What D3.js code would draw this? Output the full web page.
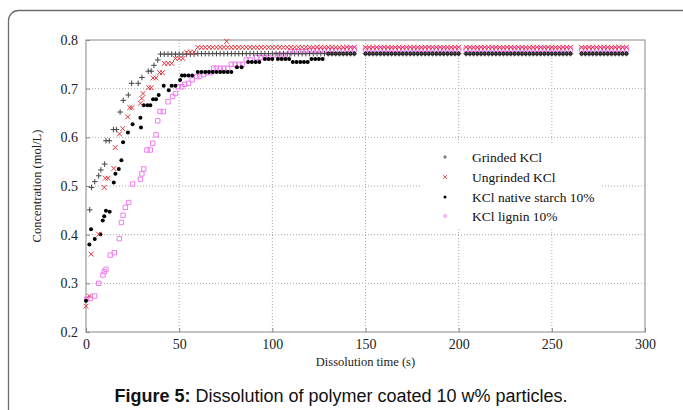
<!DOCTYPE html>
<html>
<head>
<meta charset="utf-8">
<script src="https://cdn.jsdelivr.net/npm/d3@7"></script>
<style>
  body { margin: 0; background: #fff; }
  svg { display: block; }
</style>
</head>
<body>
<div id="chart"></div>
<script>
const N = null;

// x / y ticks
const xTicks = [0, 50, 100, 150, 200, 250, 300];
const yTicks = [0.2, 0.3, 0.4, 0.5, 0.6, 0.7, 0.8];

const seriesNames = ["Grinded KCl", "Ungrinded KCl", "KCl native starch 10%", "KCl lignin 10%"];

// rising part of each curve, [time s, concentration mol/L]
const grindedRise = [[2,0.451],[3,0.497],[4.7,0.509],[6.8,0.521],[8,0.533],[10,0.545],[10.7,0.593],[12.5,0.593],
  [14.7,0.616],[16.3,0.616],[18.3,0.652],[20,0.676],[22.7,0.687],[24.5,0.711],[28,0.711],[30,0.723],
  [33.4,0.736],[35,0.736],[36.5,0.748],[38.5,0.759]];
const ungrindedRise = [[0,0.253],[1.8,0.274],[2.8,0.360],[6.8,0.401],[9.8,0.497],[10.4,0.516],[11.8,0.516],
  [14.9,0.536],[15.7,0.579],[18,0.607],[19.7,0.618],[22.4,0.642],[23.5,0.661],[24.7,0.661],[29.2,0.670],
  [30,0.680],[30.6,0.690],[33.6,0.702],[35,0.702],[36,0.722],[37.5,0.722],[39.5,0.733],[41,0.733],
  [42,0.752],[44,0.752],[46,0.752],[48,0.762],[50,0.762],[52,0.762],[54,0.775],[56,0.775],[58,0.775],[75.5,0.797]];
const starchRise = [[0,0.264],[1.8,0.380],[2.7,0.411],[4.7,0.391],[7.7,0.401],[9,0.429],[9.8,0.438],[10.7,0.449],
  [12.7,0.447],[14.9,0.507],[15.8,0.525],[17.6,0.535],[19,0.553],[19.9,0.590],[22.5,0.610],[25,0.627],
  [29.2,0.640],[29.5,0.620],[31,0.666],[33,0.666],[34.5,0.666],[36,0.678],[37.6,0.678],[39,0.687],
  [41.7,0.706],[44.4,0.697],[46,0.706],[48,0.706],[50.5,0.718],[51.5,0.727],[53,0.727],[55,0.727],[57,0.727],
  [60,0.734],[62,0.734],[64,0.734],[66,0.734],[68,0.734],[70,0.734],[72,0.734],[74,0.734],[76,0.734],[78,0.734],
  [81,0.744],[83.5,0.744],[87,0.755],[89,0.755],[91,0.755],[93,0.755],[96,0.761],[98,0.761],[100,0.761],
  [103,0.761],[105,0.761],[107,0.761],[109,0.761],[111,0.755],[113,0.755],[115,0.755],[117,0.755],[119,0.755],
  [121,0.761],[123,0.761],[125,0.761],[127,0.761]];
const ligninRise = [[0.5,0.268],[2.3,0.269],[4.7,0.274],[6.8,0.300],[9.1,0.317],[9.8,0.324],[10.7,0.329],[13,0.358],
  [15.2,0.363],[17.9,0.392],[19,0.425],[19.9,0.440],[21.1,0.456],[22.9,0.466],[25,0.504],[29.2,0.514],
  [30,0.525],[31,0.535],[32.7,0.574],[34.5,0.574],[35.8,0.588],[37.6,0.605],[38.5,0.634],[39.7,0.653],
  [41.5,0.653],[44,0.673],[46.5,0.684],[48,0.690],[49.5,0.704],[51.4,0.704],[53,0.709],[55,0.711],[57,0.718],
  [59.4,0.725],[61,0.725],[63,0.729],[65,0.733],[67,0.733],[68.5,0.742],[70,0.742],[72,0.742],[74,0.742],
  [76,0.742],[78,0.750],[80,0.750],[82,0.750],[84,0.750],[86,0.759],[88,0.759],[91.6,0.764],[94,0.764],
  [96,0.764],[98,0.764],[102,0.769],[104,0.769],[106,0.769],[108,0.769],[110,0.776],[112,0.776],[114,0.776],
  [116,0.776],[118,0.776]];

// plateau readings every 2 s (null = no marker)
const plateauTimes = [40,42,44,46,48,50,52,54,56,58,
  60,62,64,66,68,70,72,74,76,78,
  80,82,84,86,88,90,92,94,96,98,
  100,102,104,106,108,110,112,114,116,118,
  120,122,124,126,128,130,132,134,136,138,
  140,142,144,146,148,150,152,154,156,158,
  160,162,164,166,168,170,172,174,176,178,
  180,182,184,186,188,190,192,194,196,198,
  200,202,204,206,208,210,212,214,216,218,
  220,222,224,226,228,230,232,234,236,238,
  240,242,244,246,248,250,252,254,256,258,
  260,262,264,266,268,270,272,274,276,278,
  280,282,284,286,288,290];
const grindedPlateau = [.771,.771,.771,.771,.771,.771,.771,.771,.771,.771,
  .772,.772,.772,.772,.772,.772,.772,.772,.772,.772,
  .772,.772,.772,.772,.772,.772,.772,.772,.772,.772,
  .772,.772,.772,.772,.772,.772,.772,.772,.772,.772,
  .772,.772,.772,.772,.772,.772,.772,.772,.772,.772,
  .772,.772,.772,N,N,.772,.772,.772,.772,.772,
  .772,.772,.772,.772,.772,.772,.772,.772,.772,.772,
  .772,.772,.772,.772,.772,.772,.772,.772,.772,.772,
  .772,N,.772,.772,.772,.772,.772,.772,.772,.772,
  .772,.772,.772,.772,.772,.772,.772,.772,.772,.772,
  .772,.772,.772,.772,.772,.772,.772,.772,.772,.772,
  .772,N,N,.772,.772,.772,.772,.772,.772,.772,
  .772,.772,.772,.772,.772,.772];
const ungrindedPlateau = [N,N,N,N,N,N,N,N,N,N,
  .785,.785,.785,.785,.785,.785,.785,.785,.785,.785,
  .785,.785,.785,.785,.785,.785,.785,.785,.785,.785,
  .785,.785,.785,.785,.785,.785,.785,.785,.785,.785,
  .785,.785,.785,.785,.785,.785,.785,.785,.785,.785,
  .785,.785,.785,N,N,.785,.785,.785,.785,.785,
  .785,.785,.785,.785,.785,.785,.785,.785,.785,.785,
  .785,.785,.785,.785,.785,.785,.785,.785,.785,.785,
  .785,N,.785,.785,.785,.785,.785,.785,.785,.785,
  .785,.785,.785,.785,.785,.785,.785,.785,.785,.785,
  .785,.785,.785,.785,.785,.785,.785,.785,.785,.785,
  .785,N,N,.785,.785,.785,.785,.785,.785,.785,
  .785,.785,.785,.785,.785,.785];
const starchPlateau = [N,N,N,N,N,N,N,N,N,N,
  N,N,N,N,N,N,N,N,N,N,
  N,N,N,N,N,N,N,N,N,N,
  N,N,N,N,N,N,N,N,N,N,
  N,N,N,N,N,.772,.772,.772,.772,.772,
  .772,.772,.772,N,N,.772,.772,.772,.772,.772,
  .772,.772,.772,.772,.772,.772,.772,.772,.772,.772,
  .772,.772,.772,.772,.772,.772,.772,.772,.772,.772,
  .772,N,.772,.772,.772,.772,.772,.772,.772,.772,
  .772,.772,.772,.772,.772,.772,.772,.772,.772,.772,
  .772,.772,.772,.772,.772,.772,.772,.772,.772,.772,
  .772,N,N,.772,.772,.772,.772,.772,.772,.772,
  .772,.772,.772,.772,.772,.772];
const ligninPlateau = [N,N,N,N,N,N,N,N,N,N,
  N,N,N,N,N,N,N,N,N,N,
  N,N,N,N,N,N,N,N,N,N,
  N,N,N,N,N,N,N,N,N,N,
  .779,.779,.779,.779,.779,.779,.779,.779,.779,.779,
  .781,.781,.781,N,N,.781,.781,.781,.781,.781,
  .781,.781,.781,.781,.781,.781,.781,.781,.781,.781,
  .781,.781,.781,.781,.781,.781,.781,.781,.781,.781,
  .781,N,.781,.781,.781,.781,.781,.781,.781,.781,
  .781,.781,.781,.781,.781,.781,.781,.781,.781,.781,
  .781,.781,.781,.781,.781,.781,.781,.781,.781,.781,
  .781,N,N,.781,.781,.781,.781,.781,.781,.781,
  .781,.781,.781,.781,.781,.781];

const W = 683, H = 410;
const PLOT = { LEFT: 86, RIGHT: 645, TOP: 40, BOTTOM: 332 };

const svg = d3.select("#chart").append("svg")
  .attr("width", W)
  .attr("height", H);

// page frame (rounded, cut at the bottom/right like the journal page)
svg.append("rect")
  .attr("x", 8.5).attr("y", 10.5)
  .attr("width", 700).attr("height", 440)
  .attr("rx", 10)
  .attr("fill", "none")
  .attr("stroke", "#6b6b6b")
  .attr("stroke-width", 1.3);

const x = d3.scaleLinear().domain([0, 300]).range([PLOT.LEFT, PLOT.RIGHT]);
const y = d3.scaleLinear().domain([0.2, 0.8]).range([PLOT.BOTTOM, PLOT.TOP]);

const serif = "'Liberation Serif', 'Times New Roman', serif";

// dotted grid
const grid = svg.append("g");
grid.selectAll(".gx").data(xTicks.slice(1, -1)).enter().append("line")
  .attr("x1", d => x(d)).attr("x2", d => x(d))
  .attr("y1", PLOT.TOP).attr("y2", PLOT.BOTTOM)
  .attr("stroke", "#aaa").attr("stroke-dasharray", "1,2");
grid.selectAll(".gy").data(yTicks.slice(1, -1)).enter().append("line")
  .attr("x1", PLOT.LEFT).attr("x2", PLOT.RIGHT)
  .attr("y1", d => y(d)).attr("y2", d => y(d))
  .attr("stroke", "#aaa").attr("stroke-dasharray", "1,2");

// axes with inward ticks
const xAxis = svg.append("g")
  .attr("transform", `translate(0, ${PLOT.BOTTOM})`)
  .call(d3.axisBottom(x).tickValues(xTicks).tickSize(-4).tickPadding(7).tickSizeOuter(0));
const yAxis = svg.append("g")
  .attr("transform", `translate(${PLOT.LEFT}, 0)`)
  .call(d3.axisLeft(y).tickValues(yTicks).tickFormat(d3.format(".1f")).tickSize(-4).tickPadding(8).tickSizeOuter(0));
[xAxis, yAxis].forEach(a => {
  a.select(".domain").remove();
  a.selectAll("line").attr("stroke", "#888");
  a.selectAll("text").attr("font-family", serif).attr("font-size", 14).attr("fill", "#222");
});

// plot border
svg.append("rect")
  .attr("x", PLOT.LEFT).attr("y", PLOT.TOP)
  .attr("width", PLOT.RIGHT - PLOT.LEFT).attr("height", PLOT.BOTTOM - PLOT.TOP)
  .attr("fill", "none").attr("stroke", "#888").attr("stroke-width", 1);

// axis titles
svg.append("text")
  .attr("x", x(150)).attr("y", 366)
  .attr("text-anchor", "middle")
  .attr("font-family", serif).attr("font-size", 12.5).attr("fill", "#222")
  .text("Dissolution time (s)");
svg.append("text")
  .attr("transform", `translate(41, ${y(0.5)}) rotate(-90)`)
  .attr("text-anchor", "middle")
  .attr("font-family", serif).attr("font-size", 12.5).attr("fill", "#222")
  .text("Concentration (mol/L)");

// marker shapes
const shapes = {
  plus: s => `M${-s},0H${s}M0,${-s}V${s}`,
  cross: s => `M${-s},${-s}L${s},${s}M${-s},${s}L${s},${-s}`,
  square: s => `M${-s},${-s}H${s}V${s}H${-s}Z`
};

function toPoints(rise, plateau) {
  const pts = rise.map(d => ({ t: d[0], c: d[1] }));
  plateauTimes.forEach((t, i) => {
    if (plateau[i] !== null) pts.push({ t: t, c: plateau[i] });
  });
  return pts;
}

const series = [
  { name: seriesNames[0], pts: toPoints(grindedRise, grindedPlateau), kind: "plus", color: "#444", size: 2.8 },
  { name: seriesNames[1], pts: toPoints(ungrindedRise, ungrindedPlateau), kind: "cross", color: "#e8333a", size: 2.4 },
  { name: seriesNames[2], pts: toPoints(starchRise, starchPlateau), kind: "dot", color: "#000", size: 2 },
  { name: seriesNames[3], pts: toPoints(ligninRise, ligninPlateau), kind: "square", color: "#f07cf0", size: 2.2 }
];

// draw order: lignin under, then starch, grinded, ungrinded
const drawOrder = [3, 2, 0, 1];
drawOrder.forEach(k => {
  const s = series[k];
  const g = svg.append("g");
  if (s.kind === "dot") {
    g.selectAll("circle").data(s.pts).enter().append("circle")
      .attr("cx", d => x(d.t)).attr("cy", d => y(d.c))
      .attr("r", s.size).attr("fill", s.color);
  } else {
    g.selectAll("path").data(s.pts).enter().append("path")
      .attr("transform", d => `translate(${x(d.t)}, ${y(d.c)})`)
      .attr("d", shapes[s.kind](s.size))
      .attr("fill", "none").attr("stroke", s.color).attr("stroke-width", 1);
  }
});

// legend
const legend = svg.append("g");
legend.append("rect")
  .attr("x", 422).attr("y", 143).attr("width", 180).attr("height", 85)
  .attr("fill", "#fff");
const legendRows = [157, 177, 197, 216];
series.forEach((s, i) => {
  const row = legend.append("g").attr("transform", `translate(445, ${legendRows[i]})`);
  if (s.kind === "dot") {
    row.append("circle").attr("r", 1.5).attr("fill", s.color);
  } else if (s.kind === "square") {
    row.append("rect").attr("x", -1.8).attr("y", -1.8).attr("width", 3.6).attr("height", 3.6)
      .attr("fill", "#f6b6f6");
  } else {
    row.append("path").attr("d", shapes[s.kind](2))
      .attr("fill", "none").attr("stroke", s.color).attr("stroke-width", 0.8);
  }
  row.append("text")
    .attr("x", 27).attr("dy", "0.35em")
    .attr("font-family", serif).attr("font-size", 13.5).attr("fill", "#111")
    .text(s.name);
});

// caption
const caption = svg.append("text")
  .attr("x", 341).attr("y", 402)
  .attr("text-anchor", "middle")
  .attr("font-family", "'Liberation Sans', Arial, sans-serif").attr("font-size", 18).attr("fill", "#111");
caption.append("tspan").attr("font-weight", "bold").text("Figure 5:");
caption.append("tspan").text(" Dissolution of polymer coated 10 w% particles.");
</script>
</body>
</html>
